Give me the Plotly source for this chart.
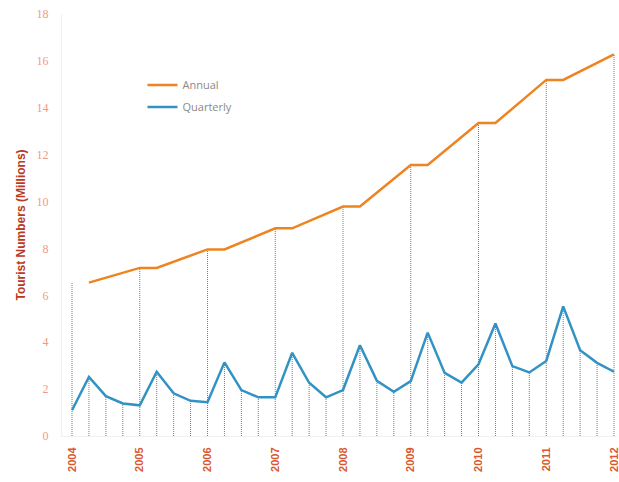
import plotly.graph_objects as go

# Tourist numbers (millions)
years = [2004, 2005, 2006, 2007, 2008, 2009, 2010, 2011, 2012]
annual = [6.54, 7.17, 7.96, 8.86, 9.79, 11.56, 13.35, 15.19, 16.28]

# Quarterly figures, 2004 Q1 .. 2012 Q1
quarterly = [
    1.10, 2.52, 1.70, 1.39,
    1.31, 2.74, 1.82, 1.50,
    1.44, 3.14, 1.96, 1.65,
    1.65, 3.55, 2.27, 1.65,
    1.96, 3.87, 2.35, 1.89,
    2.34, 4.41, 2.69, 2.28,
    3.06, 4.80, 2.98, 2.71,
    3.20, 5.53, 3.66, 3.12,
    2.74,
]

tick_labels = [str(y) for y in years]

# Quarter positions on a decimal-year axis
qx = [years[0] + i / 4 for i in range(len(quarterly))]

# Annual line: each year's total held across Q1 and Q2, rising to the next year
ax, ay = [], []
for i, (yr, val) in enumerate(zip(years, annual)):
    if i > 0:
        ax.append(yr)
        ay.append(val)
    if i < len(years) - 1:
        ax.append(yr + 0.25)
        ay.append(val)

# Drop lines: to the annual total at each Q1, otherwise to the quarterly value
dx, dy = [], []
for i, (x, q) in enumerate(zip(qx, quarterly)):
    top = annual[i // 4] if i % 4 == 0 else q
    dx += [x, x, None]
    dy += [0, top, None]

fig = go.Figure()
fig.add_trace(go.Scatter(
    x=dx, y=dy, mode="lines",
    line=dict(color="#6b7d98", width=1, dash="1px,1px"),
    showlegend=False, hoverinfo="skip",
))
fig.add_trace(go.Scatter(
    x=ax, y=ay, mode="lines", name="Annual", legendgroup="a",
    line=dict(color="#ee8420", width=2.5),
))
fig.add_trace(go.Scatter(
    x=qx, y=quarterly, mode="lines", name="Quarterly", legendgroup="q",
    line=dict(color="#3392c4", width=2.5),
))

px_per_year = 542 / 8
fig.update_layout(
    width=619, height=482,
    margin=dict(l=62, r=2, t=14, b=46),
    paper_bgcolor="white", plot_bgcolor="white",
    showlegend=True,
    legend=dict(
        x=0.145, y=0.866, xanchor="left", yanchor="top",
        bgcolor="rgba(0,0,0,0)",
        font=dict(family="Open Sans", size=11, color="#8a8a8a"),
        tracegroupgap=3,
    ),
    xaxis=dict(
        range=[years[0] - 10 / px_per_year, years[-1] + 3 / px_per_year],
        tickmode="array", tickvals=years, ticktext=[f"<b>{t}</b>" for t in tick_labels],
        tickangle=-90,
        tickfont=dict(family="Liberation Sans", size=11, color="#d9582e"),
        ticklabeloverflow="allow", ticklabelstandoff=6,
        automargin=False,
        showgrid=False, zeroline=False,
        showline=True, linecolor="#eef0f4", linewidth=1,
        ticks="",
    ),
    yaxis=dict(
        range=[0, 18], tickmode="linear", tick0=0, dtick=2,
        tickfont=dict(family="Liberation Serif", size=12, color="#ef9a88"),
        showgrid=False, zeroline=False,
        showline=True, linecolor="#f0f1f4", linewidth=1,
        ticks="", ticklabelstandoff=10,
        title=dict(
            text="<b>Tourist Numbers (Millions)</b>",
            font=dict(family="Liberation Sans", size=12, color="#b83a22"),
            standoff=8,
        ),
    ),
)

fig.write_html("out.html")
